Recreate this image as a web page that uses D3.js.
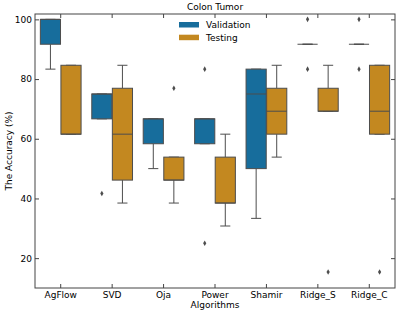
<!DOCTYPE html>
<html>
<head>
<meta charset="utf-8">
<script src="https://cdn.jsdelivr.net/npm/d3@7"></script>
<style>
  body { margin: 0; background: #fff; }
  text { font-family: "DejaVu Sans", sans-serif; fill: #000; }
</style>
</head>
<body>
<div id="chart"></div>
<script>
// Categories and box statistics
const categories = ["AgFlow", "SVD", "Oja", "Power", "Shamir", "Ridge_S", "Ridge_C"];
const seriesNames = ["Validation", "Testing"];

const valQ1 = [91.67, 66.67, 58.33, 58.33, 50.0, 91.67, 91.67];
const valMedian = [100, 75.0, 66.67, 66.67, 75.0, 91.67, 91.67];
const valQ3 = [100, 75.0, 66.67, 66.67, 83.33, 91.67, 91.67];
const valLow = [83.33, 66.67, 50.0, 58.33, 33.33, 91.67, 91.67];
const valHigh = [100, 75.0, 66.67, 66.67, 83.33, 91.67, 91.67];
const valOutliers = [[], [41.67], [], [83.33, 25.0], [], [100, 83.33], [100, 83.33]];

const testQ1 = [61.54, 46.15, 46.15, 38.46, 61.54, 69.23, 61.54];
const testMedian = [61.54, 61.54, 46.15, 38.46, 69.23, 69.23, 69.23];
const testQ3 = [84.62, 76.92, 53.85, 53.85, 76.92, 76.92, 84.62];
const testLow = [61.54, 38.46, 38.46, 30.77, 53.85, 69.23, 61.54];
const testHigh = [84.62, 84.62, 53.85, 61.54, 84.62, 84.62, 84.62];
const testOutliers = [[], [], [76.92], [], [], [15.38], [15.38]];

const yTicks = [20, 40, 60, 80, 100];
const colors = ["#176d9c", "#c38820"];
const gray = "#4d4d4d";

// Dimensions
const W = 399, H = 316;
const margin = { top: 14, right: 4, bottom: 28, left: 35 };
const width = W - margin.left - margin.right;
const height = H - margin.top - margin.bottom;

const svg = d3.select("#chart").append("svg")
  .attr("width", W)
  .attr("height", H);

const chart = svg.append("g")
  .attr("transform", `translate(${margin.left},${margin.top})`);

// Scales
const xScale = d3.scaleBand().domain(categories).range([0, width]).padding(0);
const hueScale = d3.scaleBand().domain(seriesNames)
  .range([xScale.bandwidth() * 0.1, xScale.bandwidth() * 0.9]);
const yScale = d3.scaleLinear().domain([10.0, 101.8]).range([height, 0]);

// Axes (ticks point inward, on all four sides)
const fmt = d3.format("d");
chart.append("g")
  .attr("transform", `translate(0,${height})`)
  .call(d3.axisBottom(xScale).tickSize(-4).tickSizeOuter(0).tickPadding(4))
  .call((g) => g.select(".domain").remove())
  .call((g) => g.selectAll("text").style("font-size", "9px"));

chart.append("g")
  .call(d3.axisTop(xScale).tickSize(-4).tickSizeOuter(0).tickFormat(""))
  .call((g) => g.select(".domain").remove());

chart.append("g")
  .call(d3.axisLeft(yScale).tickValues(yTicks).tickFormat(fmt).tickSize(-4).tickSizeOuter(0).tickPadding(3))
  .call((g) => g.select(".domain").remove())
  .call((g) => g.selectAll("text").style("font-size", "9px"));

chart.append("g")
  .attr("transform", `translate(${width},0)`)
  .call(d3.axisRight(yScale).tickValues(yTicks).tickSize(-4).tickSizeOuter(0).tickFormat(""))
  .call((g) => g.select(".domain").remove());

chart.selectAll(".tick line").attr("stroke", "#444");

// Build box rows
const rows = [];
categories.forEach((c, i) => {
  rows.push({ cat: c, s: "Validation", k: 0, q1: valQ1[i], med: valMedian[i], q3: valQ3[i],
    lo: valLow[i], hi: valHigh[i], out: valOutliers[i] });
  rows.push({ cat: c, s: "Testing", k: 1, q1: testQ1[i], med: testMedian[i], q3: testQ3[i],
    lo: testLow[i], hi: testHigh[i], out: testOutliers[i] });
});

const boxW = hueScale.bandwidth() * 0.98;
const boxX = (d) => xScale(d.cat) + hueScale(d.s) + (hueScale.bandwidth() - boxW) / 2;
const boxC = (d) => xScale(d.cat) + hueScale(d.s) + hueScale.bandwidth() / 2;

const box = chart.selectAll(".box").data(rows).enter().append("g").attr("class", "box");

// Whiskers and caps
box.append("line")
  .attr("x1", boxC).attr("x2", boxC)
  .attr("y1", (d) => yScale(d.q3)).attr("y2", (d) => yScale(d.hi))
  .attr("stroke", gray).attr("stroke-width", 1);
box.append("line")
  .attr("x1", boxC).attr("x2", boxC)
  .attr("y1", (d) => yScale(d.q1)).attr("y2", (d) => yScale(d.lo))
  .attr("stroke", gray).attr("stroke-width", 1);
box.append("line")
  .attr("x1", (d) => boxC(d) - boxW / 4).attr("x2", (d) => boxC(d) + boxW / 4)
  .attr("y1", (d) => yScale(d.hi)).attr("y2", (d) => yScale(d.hi))
  .attr("stroke", gray).attr("stroke-width", 1);
box.append("line")
  .attr("x1", (d) => boxC(d) - boxW / 4).attr("x2", (d) => boxC(d) + boxW / 4)
  .attr("y1", (d) => yScale(d.lo)).attr("y2", (d) => yScale(d.lo))
  .attr("stroke", gray).attr("stroke-width", 1);

// Box body
box.append("rect")
  .attr("x", boxX)
  .attr("y", (d) => yScale(d.q3))
  .attr("width", boxW)
  .attr("height", (d) => yScale(d.q1) - yScale(d.q3))
  .attr("fill", (d) => colors[d.k])
  .attr("stroke", gray)
  .attr("stroke-width", 1);

// Median
box.append("line")
  .attr("x1", boxX).attr("x2", (d) => boxX(d) + boxW)
  .attr("y1", (d) => yScale(d.med)).attr("y2", (d) => yScale(d.med))
  .attr("stroke", gray).attr("stroke-width", 1);

// Outliers
const diamond = d3.symbol().type(d3.symbolDiamond).size(9);
box.selectAll(".flier")
  .data((d) => d.out.map((v) => ({ v, x: boxC(d) })))
  .enter().append("path")
  .attr("class", "flier")
  .attr("d", diamond)
  .attr("transform", (p) => `translate(${p.x},${yScale(p.v)})`)
  .attr("fill", gray);

// Frame
chart.append("rect")
  .attr("width", width).attr("height", height)
  .attr("fill", "none").attr("stroke", "#444").attr("stroke-width", 1);

// Title and axis labels
svg.append("text")
  .attr("x", margin.left + width / 2).attr("y", 10)
  .attr("text-anchor", "middle").style("font-size", "9px")
  .text("Colon Tumor");

svg.append("text")
  .attr("x", margin.left + width / 2).attr("y", 308)
  .attr("text-anchor", "middle").style("font-size", "9px")
  .text("Algorithms");

svg.append("text")
  .attr("transform", "rotate(-90)")
  .attr("x", -(margin.top + height / 2)).attr("y", 12)
  .attr("text-anchor", "middle").style("font-size", "9px")
  .text("The Accuracy (%)");

// Legend
const legend = svg.append("g").attr("transform", "translate(179,22)");
seriesNames.forEach((s, i) => {
  legend.append("rect")
    .attr("x", 0).attr("y", i * 12.7)
    .attr("width", 20).attr("height", 5.5)
    .attr("fill", colors[i]);
  legend.append("text")
    .attr("x", 27).attr("y", i * 12.7 + 6)
    .style("font-size", "9px")
    .text(s);
});
</script>
</body>
</html>
